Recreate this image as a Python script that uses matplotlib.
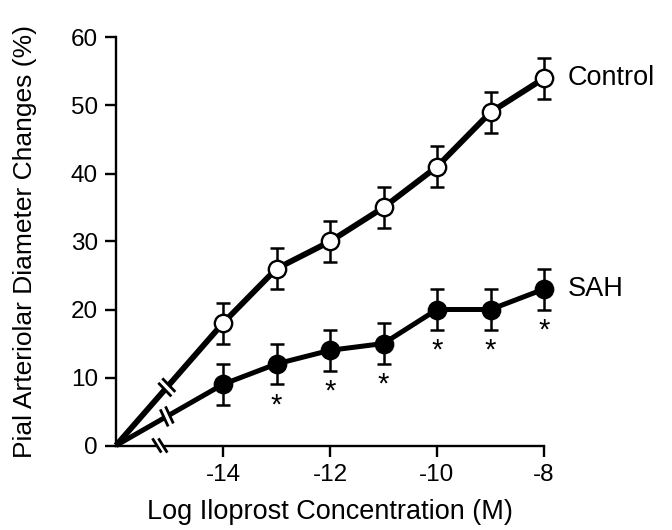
import numpy as np
import matplotlib
matplotlib.use('Agg')
import matplotlib.pyplot as plt

plt.rcParams['font.family'] = ['Liberation Sans', 'DejaVu Sans']
plt.rcParams['axes.unicode_minus'] = False

# data
conc = [-14, -13, -12, -11, -10, -9, -8]
control = [18, 26, 30, 35, 41, 49, 54]
control_sem = [3, 3, 3, 3, 3, 3, 3]
sah = [9, 12, 14, 15, 20, 20, 23]
sah_sem = [3, 3, 3, 3, 3, 3, 3]
sah_sig = [False, True, True, True, True, True, True]
origin = (-16, 0)
break_x = -15.05
xticks = [-14, -12, -10, -8]
yticks = [0, 10, 20, 30, 40, 50, 60]

fig = plt.figure(figsize=(6.72, 5.3), dpi=100)
ax = fig.add_axes([116/672, 84.5/530, 428/672, 408/530])
ax.set_xlim(-16, -8)
ax.set_ylim(0, 60)

def series(y, err, face, lw):
    xs = [origin[0]] + conc
    ys = [origin[1]] + y
    ax.plot(xs, ys, color='k', lw=lw, solid_capstyle='butt', zorder=2, clip_on=False)
    ax.errorbar(conc, y, yerr=err, fmt='none', ecolor='k', elinewidth=1.8,
                capsize=5, capthick=1.8, zorder=3, clip_on=False)
    ax.plot(conc, y, 'o', ms=12.5, mfc=face, mec='k', mew=1.7, zorder=4, clip_on=False)

series(control, control_sem, 'white', 4.2)
series(sah, sah_sem, 'black', 3.6)

# significance marks
for xv, yv, e, s in zip(conc, sah, sah_sem, sah_sig):
    if s:
        ax.annotate('*', (xv, yv - e), xytext=(0, -5), textcoords='offset points',
                    ha='center', va='top', fontsize=21)

ax.annotate('Control', (conc[-1], control[-1]), xytext=(17, 0), textcoords='offset points',
            ha='left', va='center', fontsize=19.5)
ax.annotate('SAH', (conc[-1], sah[-1]), xytext=(17, 0), textcoords='offset points',
            ha='left', va='center', fontsize=19.5)

# axis-break marks (drawn in pixel space, converted back to data)
fig.canvas.draw()
T = ax.transData
Ti = T.inverted()

def brk(xd, yd, line_ang, stroke_ang, gap=6, length=16, white_lw=7):
    px, py = T.transform((xd, yd))
    ux, uy = np.cos(np.radians(line_ang)), np.sin(np.radians(line_ang))
    sx, sy = np.cos(np.radians(stroke_ang)), np.sin(np.radians(stroke_ang))
    a = Ti.transform([(px - ux*gap/2, py - uy*gap/2), (px + ux*gap/2, py + uy*gap/2)])
    ax.plot(a[:, 0], a[:, 1], color='white', lw=white_lw, solid_capstyle='butt',
            zorder=5, clip_on=False)
    for d in (-gap/2, gap/2):
        cx, cy = px + ux*d, py + uy*d
        b = Ti.transform([(cx - sx*length/2, cy - sy*length/2), (cx + sx*length/2, cy + sy*length/2)])
        ax.plot(b[:, 0], b[:, 1], color='k', lw=2.0, zorder=6, clip_on=False)

for y in (control, sah):
    p0 = T.transform(origin)
    p1 = T.transform((conc[0], y[0]))
    ang = np.degrees(np.arctan2(p1[1]-p0[1], p1[0]-p0[0]))
    yb = origin[1] + (y[0] - origin[1]) * (break_x - origin[0]) / (conc[0] - origin[0])
    brk(break_x, yb, ang, ang - 95)
brk(-15.18, 0, 0, -58, length=14, white_lw=4)

for side in ('top', 'right'):
    ax.spines[side].set_visible(False)
for side in ('left', 'bottom'):
    ax.spines[side].set_linewidth(1.7)
ax.set_xticks(xticks)
ax.set_yticks(yticks)
ax.tick_params(direction='out', length=8, width=1.7, labelsize=17.5, pad=5)
ax.set_xlabel('Log Iloprost Concentration (M)', fontsize=19.5, labelpad=10)
ax.set_ylabel('Pial Arteriolar Diameter Changes (%)', fontsize=19, labelpad=24)

fig.savefig('out.png', dpi=100)
